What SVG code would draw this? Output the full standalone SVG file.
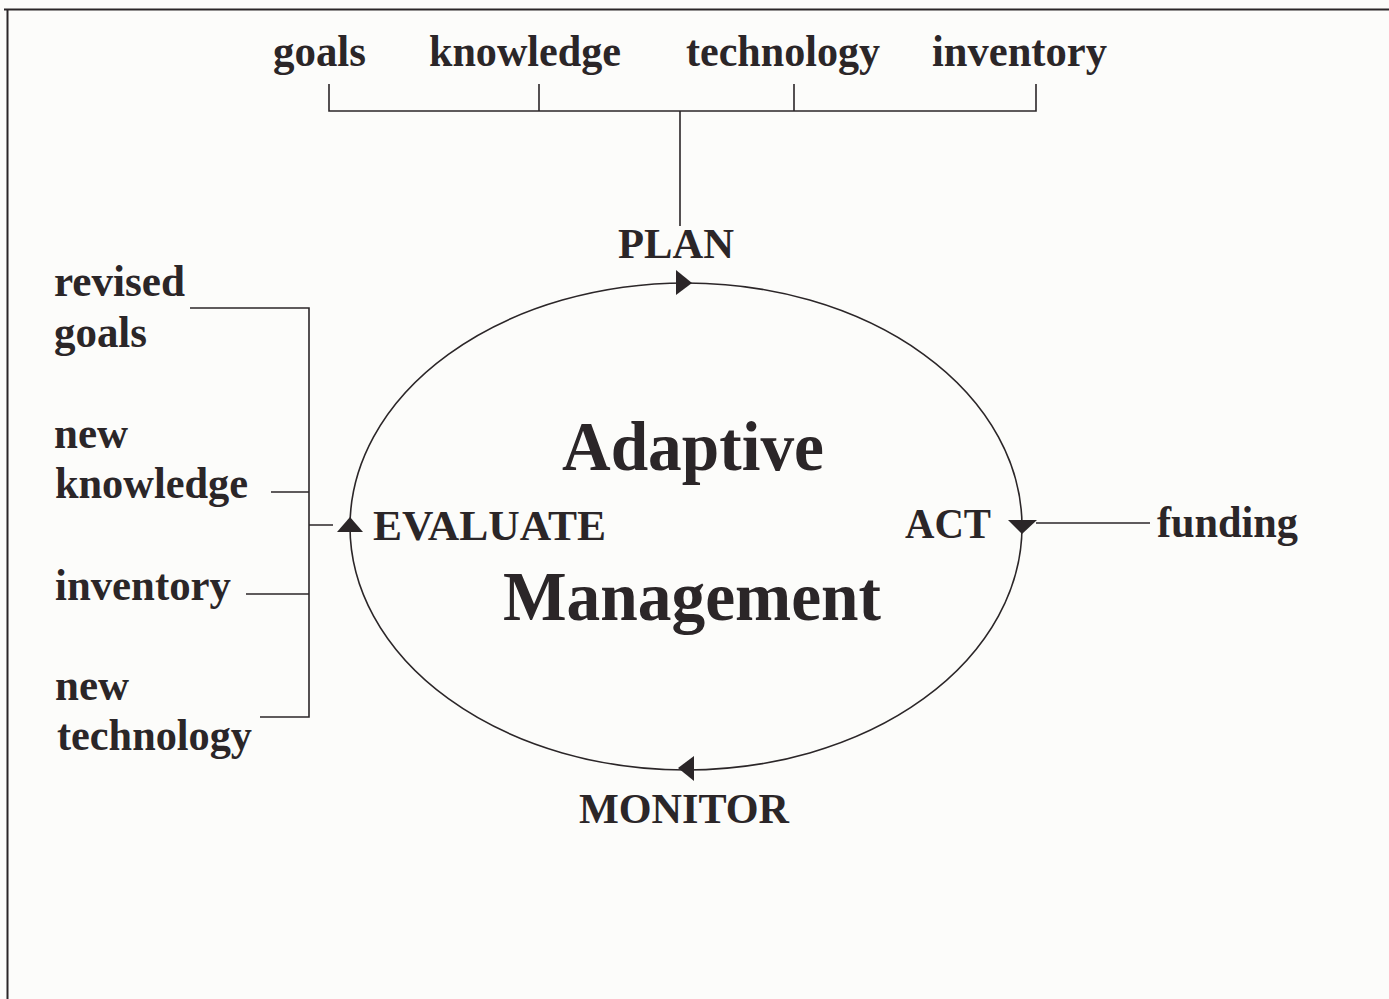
<svg xmlns="http://www.w3.org/2000/svg" width="1389" height="999" viewBox="0 0 1389 999">
<style>
.t{font-family:"Liberation Serif","Times New Roman",serif;font-weight:bold;fill:#2b2628}
.lb{font-size:44px}
.cap{font-size:42px}
.big{font-size:70px}
.ln{stroke:#2b2628;stroke-width:1.6;fill:none}
.ar{fill:#2b2628}
</style>
<rect x="0" y="0" width="1389" height="999" fill="#fcfcfa"/>
<g id="frame">
<line x1="4" y1="9.5" x2="1389" y2="9.5" stroke="#2b2628" stroke-width="2"/>
<line x1="7.5" y1="9" x2="7.5" y2="999" stroke="#2b2628" stroke-width="2"/>
</g>
<g id="connectors">
<path class="ln" d="M329,84 V111 H1036 V84 M539,84 V111 M794,84 V111 M680,111 V226"/>
<path class="ln" d="M190,308 H309 V717 H260 M271,492 H309 M246,594 H309 M309,525 H333"/>
<line class="ln" x1="1036" y1="523" x2="1150" y2="523"/>
</g>
<g id="cycle">
<ellipse class="ln" cx="686" cy="526.5" rx="336" ry="243.5"/>
<polygon class="ar" points="676,270 676,295 692,283"/>
<polygon class="ar" points="1008,520 1037,520 1022,534"/>
<polygon class="ar" points="678,768 694,756 694,781"/>
<polygon class="ar" points="337,532 363,532 350,517"/>
</g>
<g id="inputs-top">
<text class="t lb" x="273" y="66" textLength="93" lengthAdjust="spacingAndGlyphs">goals</text>
<text class="t lb" x="429" y="66" textLength="192" lengthAdjust="spacingAndGlyphs">knowledge</text>
<text class="t lb" x="686" y="66" textLength="194" lengthAdjust="spacingAndGlyphs">technology</text>
<text class="t lb" x="932" y="66" textLength="175" lengthAdjust="spacingAndGlyphs">inventory</text>
</g>
<g id="plan"><text class="t cap" x="618" y="258" textLength="116" lengthAdjust="spacingAndGlyphs">PLAN</text></g>
<g id="act"><text class="t cap" x="905" y="538" textLength="86" lengthAdjust="spacingAndGlyphs">ACT</text></g>
<g id="monitor"><text class="t cap" x="579" y="823" textLength="210" lengthAdjust="spacingAndGlyphs">MONITOR</text></g>
<g id="evaluate"><text class="t cap" x="373" y="540" textLength="233" lengthAdjust="spacingAndGlyphs">EVALUATE</text></g>
<g id="funding"><text class="t lb" x="1157" y="537" textLength="141" lengthAdjust="spacingAndGlyphs">funding</text></g>
<g id="title">
<text class="t big" x="562" y="470" textLength="262" lengthAdjust="spacingAndGlyphs">Adaptive</text>
<text class="t big" x="503" y="620" textLength="378" lengthAdjust="spacingAndGlyphs">Management</text>
</g>
<g id="inputs-left">
<text class="t lb" x="54" y="296" textLength="131" lengthAdjust="spacingAndGlyphs">revised</text>
<text class="t lb" x="54" y="347" textLength="93" lengthAdjust="spacingAndGlyphs">goals</text>
<text class="t lb" x="54" y="448" textLength="74" lengthAdjust="spacingAndGlyphs">new</text>
<text class="t lb" x="55" y="498" textLength="193" lengthAdjust="spacingAndGlyphs">knowledge</text>
<text class="t lb" x="55" y="600" textLength="176" lengthAdjust="spacingAndGlyphs">inventory</text>
<text class="t lb" x="55" y="700" textLength="74" lengthAdjust="spacingAndGlyphs">new</text>
<text class="t lb" x="57" y="750" textLength="195" lengthAdjust="spacingAndGlyphs">technology</text>
</g>
</svg>
